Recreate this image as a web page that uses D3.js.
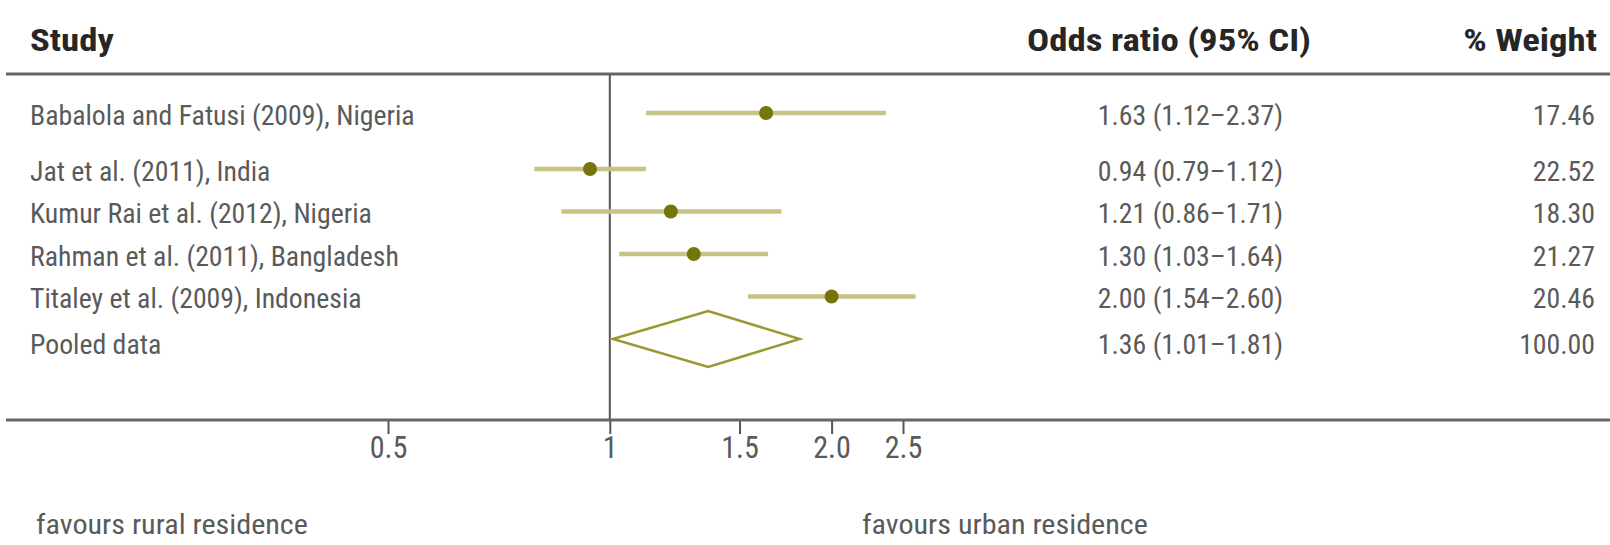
<!DOCTYPE html>
<html>
<head>
<meta charset="utf-8">
<script src="https://cdn.jsdelivr.net/npm/d3@7"></script>
<style>
  html, body { margin: 0; padding: 0; background: #fff; }
  svg { display: block; }
  text { font-family: "Liberation Sans Narrow", "Roboto Condensed", "Roboto", "Liberation Sans", sans-serif; }
</style>
</head>
<body>
<svg id="chart" width="1610" height="545"></svg>
<script>
// ---- data ----
const studies = [
  "Babalola and Fatusi (2009), Nigeria",
  "Jat et al. (2011), India",
  "Kumur Rai et al. (2012), Nigeria",
  "Rahman et al. (2011), Bangladesh",
  "Titaley et al. (2009), Indonesia"
];
const oddsRatios = [1.63, 0.94, 1.21, 1.30, 2.00];
const ciLower = [1.12, 0.79, 0.86, 1.03, 1.54];
const ciUpper = [2.37, 1.12, 1.71, 1.64, 2.60];
const weights = [17.46, 22.52, 18.30, 21.27, 20.46];
const pooledLabel = "Pooled data";
const pooledOR = 1.36;
const pooledLower = 1.01;
const pooledUpper = 1.81;
const pooledWeight = 100.00;
const tickValues = [0.5, 1, 1.5, 2.0, 2.5];
const tickLabels = ["0.5", "1", "1.5", "2.0", "2.5"];
const headers = ["Study", "Odds ratio (95% CI)", "% Weight"];
const footLabels = ["favours rural residence", "favours urban residence"];

// ---- layout ----
const W = 1610, H = 545;
const svg = d3.select("#chart");
const x = d3.scaleLog().domain([0.5, 2.5]).range([388, 903]);
const y = d3.scaleLinear().domain([0, 1, 5]).range([113, 169, 339]);
const topLineY = 74, axisY = 420;
const colStudyX = 30, colOrX = 1283, colWX = 1595, colOrHeadX = 1311, colWHeadX = 1597;
const fmt = d3.format(".2f");
const textDy = 2;

const rowColor = "#5a5a5a", headColor = "#262626";
const dotColor = "#76750a", ciColor = "#c6c484", diamondColor = "#9a9832";

// helper: condensed text by horizontal scaling around anchor x
function squeeze(sel, k) {
  sel.attr("transform", function () {
    const xx = +d3.select(this).attr("x") || 0;
    return `translate(${xx},0) scale(${k},1) translate(${-xx},0)`;
  });
}
function measure(str, size, weight) {
  const t = svg.append("text").attr("font-size", size).attr("font-weight", weight || "normal").text(str);
  const w = t.node().getComputedTextLength();
  t.remove();
  return w;
}

const rowSize = 28, headSize = 32, tickSize = 32;
const kRow = (367 + 387) / (measure(studies[0], rowSize) + measure(studies[3], rowSize));
const kHead = 284 / measure(headers[1], headSize, "bold");
const kFoot = (272 + 286) / (measure(footLabels[0], rowSize) + measure(footLabels[1], rowSize));

// header texts
const hdr = svg.append("g").attr("fill", headColor).attr("font-size", headSize).attr("font-weight", "bold");
hdr.append("text").attr("x", colStudyX).attr("y", 40).attr("dominant-baseline", "central").text(headers[0]);
hdr.append("text").attr("x", colOrHeadX).attr("y", 40).attr("dominant-baseline", "central").attr("text-anchor", "end").text(headers[1]);
hdr.append("text").attr("x", colWHeadX).attr("y", 40).attr("dominant-baseline", "central").attr("text-anchor", "end").text(headers[2]);
squeeze(hdr.selectAll("text"), kHead);

// horizontal rule under header
svg.append("line").attr("x1", 6).attr("x2", W).attr("y1", topLineY).attr("y2", topLineY)
  .attr("stroke", "#666").attr("stroke-width", 3);

// null line at OR = 1
svg.append("line").attr("x1", x(1)).attr("x2", x(1)).attr("y1", topLineY).attr("y2", axisY)
  .attr("stroke", "#555").attr("stroke-width", 2);

// axis
const axis = d3.axisBottom(x).tickValues(tickValues)
  .tickFormat((d, i) => tickLabels[i]).tickSize(14).tickPadding(1);
const gAxis = svg.append("g").attr("transform", `translate(0,${axisY})`).call(axis);
gAxis.attr("font-family", null).attr("font-size", null);
gAxis.select(".domain").remove();
gAxis.selectAll(".tick line").attr("stroke", "#555").attr("stroke-width", 2);
gAxis.selectAll(".tick text").attr("fill", rowColor).attr("font-size", tickSize)
  .attr("transform", `scale(${kRow * 0.95},1)`);
svg.append("line").attr("x1", 6).attr("x2", W).attr("y1", axisY).attr("y2", axisY)
  .attr("stroke", "#666").attr("stroke-width", 3);

// study rows
const idx = d3.range(studies.length);
const rows = svg.append("g").attr("fill", rowColor).attr("font-size", rowSize);
rows.selectAll(".lab").data(idx).join("text").attr("class", "lab")
  .attr("x", colStudyX).attr("y", i => y(i) + textDy).attr("dominant-baseline", "central")
  .text(i => studies[i]);
rows.selectAll(".orv").data(idx).join("text").attr("class", "orv")
  .attr("x", colOrX).attr("y", i => y(i) + textDy).attr("dominant-baseline", "central").attr("text-anchor", "end")
  .text(i => `${fmt(oddsRatios[i])} (${fmt(ciLower[i])}–${fmt(ciUpper[i])})`);
rows.selectAll(".wv").data(idx).join("text").attr("class", "wv")
  .attr("x", colWX).attr("y", i => y(i) + textDy).attr("dominant-baseline", "central").attr("text-anchor", "end")
  .text(i => fmt(weights[i]));
// pooled row text
const pi = studies.length;
rows.append("text").attr("x", colStudyX).attr("y", y(pi) + textDy + 3).attr("dominant-baseline", "central").text(pooledLabel);
rows.append("text").attr("x", colOrX).attr("y", y(pi) + textDy + 3).attr("dominant-baseline", "central").attr("text-anchor", "end")
  .text(`${fmt(pooledOR)} (${fmt(pooledLower)}–${fmt(pooledUpper)})`);
rows.append("text").attr("x", colWX).attr("y", y(pi) + textDy + 3).attr("dominant-baseline", "central").attr("text-anchor", "end")
  .text(fmt(pooledWeight));
squeeze(rows.selectAll("text"), kRow);

// CI lines and points
const marks = svg.append("g");
marks.selectAll(".ci").data(idx).join("line").attr("class", "ci")
  .attr("x1", i => x(ciLower[i])).attr("x2", i => x(ciUpper[i]))
  .attr("y1", i => y(i)).attr("y2", i => y(i))
  .attr("stroke", ciColor).attr("stroke-width", 4.5);
marks.selectAll(".pt").data(idx).join("circle").attr("class", "pt")
  .attr("cx", i => x(oddsRatios[i])).attr("cy", i => y(i)).attr("r", 7)
  .attr("fill", dotColor);

// pooled diamond
const dh = 28;
marks.append("path")
  .attr("d", `M${x(pooledLower)},${y(pi)} L${x(pooledOR)},${y(pi) - dh} L${x(pooledUpper)},${y(pi)} L${x(pooledOR)},${y(pi) + dh} Z`)
  .attr("fill", "none").attr("stroke", diamondColor).attr("stroke-width", 2.5);

// footer labels
const foot = svg.append("g").attr("fill", rowColor).attr("font-size", rowSize);
foot.append("text").attr("x", 36).attr("y", 524).attr("dominant-baseline", "central").text(footLabels[0]);
foot.append("text").attr("x", 862).attr("y", 524).attr("dominant-baseline", "central").text(footLabels[1]);
squeeze(foot.selectAll("text"), kFoot);
</script>
</body>
</html>
